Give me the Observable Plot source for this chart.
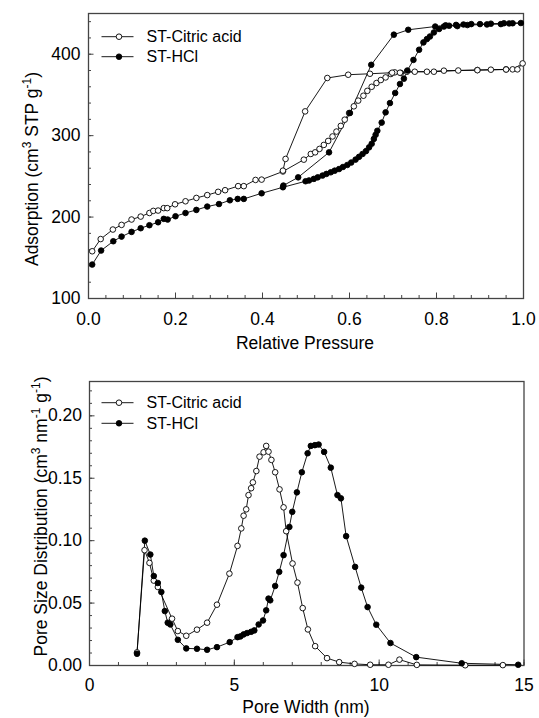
<!DOCTYPE html>
<html><head><meta charset="utf-8">
<script src="https://cdn.jsdelivr.net/npm/d3@7"></script>
<script src="https://cdn.jsdelivr.net/npm/@observablehq/plot@0.6"></script>
<style>
body{margin:0;background:#fff;font-family:"Liberation Sans",Arial,sans-serif;}
#wrap{width:539px;height:718px;position:relative;overflow:hidden;background:#fff}
#wrap svg{display:block}
</style></head><body><div id="wrap"></div>
<script>
const seriesNames = ["ST-Citric acid", "ST-HCl"];

// ---- Isotherm (top) ----
const citricAdsP = [0.0085,0.028,0.056,0.076,0.099,0.12,0.140,0.149,0.160,0.173,0.181,0.199,0.223,0.248,0.273,0.298,0.314,0.344,0.357,0.384,0.398,0.447,0.495,0.511,0.521,0.531,0.541,0.551,0.561,0.570,0.580,0.589,0.599,0.610,0.620,0.632,0.641,0.651,0.662,0.672,0.683,0.695,0.704,0.718,0.750,0.794,0.850,0.894,0.925,0.960,0.975,0.998];
const citricAdsV = [158,173,184.7,190.4,197,200.6,205,207.6,208,211,211,215.7,219.4,223.5,227,231,233,238,238,245.6,246,256,270.5,277.5,279.5,283.7,288.6,293.5,299,305,312,319.6,327.8,336,343,349,355,360,364.6,368.3,371.5,375.7,377.7,377,378.5,378.5,380,380.6,381,381.4,381.4,388.7];
const citricDesP = [0.986,0.960,0.894,0.817,0.778,0.732,0.716,0.698,0.647,0.597,0.549,0.498,0.453,0.447];
const citricDesV = [381.4,381.2,380.4,379.8,378.5,378.5,377.3,377.3,376,374.8,370.8,329.8,271.4,257];

const hclAdsP = [0.0085,0.029,0.057,0.076,0.099,0.12,0.14,0.16,0.173,0.182,0.2,0.223,0.248,0.273,0.30,0.325,0.343,0.357,0.398,0.447,0.499,0.507,0.518,0.527,0.538,0.547,0.557,0.566,0.576,0.585,0.595,0.604,0.614,0.622,0.630,0.638,0.645,0.651,0.656,0.660,0.664,0.674,0.683,0.693,0.705,0.716,0.725,0.733,0.747,0.760,0.770,0.778,0.785,0.794,0.806,0.817,0.829,0.845,0.862,0.880,0.900,0.925,0.955,0.975,0.994];
const hclAdsV = [141.7,158.9,170.3,176,181.8,186.3,190,193.6,197.8,197,201,205,208.8,212.9,216,220.6,222.3,222.3,229.2,236.6,244,245,246.9,248.8,251,253,255,257,259,261.5,264,267,270.6,274,277.5,281,285.6,290,296,301,306,316,328.6,340,352.4,363.4,370,380,393,405.5,414.5,418.6,421.8,426.7,431,434,435,436,436.5,437,437,437.5,438,438,438.3];
const hclDesP = [0.967,0.948,0.916,0.871,0.848,0.821,0.797,0.735,0.702,0.650,0.601,0.553,0.482,0.448];
const hclDesV = [437.8,437,436.6,435.8,434.5,435.5,434,430,424,387,327.8,279.5,248.8,238.7];

// ---- Pore size distribution (bottom) ----
const psdCitricW = [1.64,1.90,2.07,2.22,2.36,2.85,3.05,3.34,3.71,4.06,4.40,4.83,5.11,5.24,5.32,5.41,5.49,5.58,5.64,5.76,5.87,6.01,6.10,6.18,6.28,6.41,6.56,6.70,6.79,7.01,7.18,7.36,7.54,7.79,8.20,8.62,9.15,9.69,10.32,10.70,11.30,12.97,14.27];
const psdCitricD = [0.0105,0.0924,0.0822,0.068,0.0629,0.0375,0.0276,0.0238,0.0287,0.0343,0.0487,0.0736,0.0958,0.1098,0.12,0.1251,0.1365,0.142,0.1467,0.1558,0.1673,0.1708,0.1759,0.1713,0.1647,0.1548,0.1411,0.1267,0.1076,0.0817,0.0664,0.046,0.0289,0.0155,0.0059,0.0027,0.0013,0.0006,0.0006,0.0047,0.0005,0.0002,0.0003];
const psdHclW = [1.64,1.91,2.10,2.22,2.36,2.48,2.60,2.70,2.79,3.05,3.34,3.71,4.06,4.40,4.84,5.11,5.21,5.32,5.44,5.58,5.69,5.84,5.99,6.10,6.18,6.24,6.41,6.55,6.70,6.90,7.00,7.16,7.33,7.53,7.64,7.78,7.91,8.10,8.33,8.56,8.68,8.86,9.17,9.38,9.60,9.90,10.39,11.28,12.85,14.80];
const psdHclD = [0.0094,0.1,0.0889,0.0717,0.0661,0.0589,0.0436,0.0343,0.0329,0.0206,0.0137,0.0134,0.0126,0.0147,0.0187,0.0227,0.0233,0.0249,0.026,0.027,0.0281,0.0329,0.0361,0.0442,0.0536,0.0522,0.0637,0.075,0.0884,0.111,0.1231,0.1387,0.1548,0.17,0.1759,0.1765,0.177,0.1711,0.1585,0.1365,0.1339,0.1036,0.079,0.0624,0.0468,0.0327,0.018,0.0067,0.0018,0.0006];

// ---- ticks ----
const isoXTicks = [0, 0.2, 0.4, 0.6, 0.8, 1.0];
const isoXMinor = d3.range(0, 1.0001, 0.04);
const isoYTicks = [100, 200, 300, 400];
const isoYMinor = d3.range(100, 441, 20);
const psdXTicks = [0, 5, 10, 15];
const psdXMinor = d3.range(0, 15.001, 1);
const psdYTicks = [0, 0.05, 0.10, 0.15, 0.20];
const psdYMinor = d3.range(0, 0.2201, 0.01);

const FONT = '"Liberation Sans", Arial, sans-serif';
const W = 539;

function rows(name, xs, ys, kx, ky) { return xs.map((x, i) => ({s: name, [kx]: x, [ky]: ys[i]})); }

const isoCit = rows(seriesNames[0], citricAdsP.concat(citricDesP), citricAdsV.concat(citricDesV), "p", "v");
const isoHcl = rows(seriesNames[1], hclAdsP.concat(hclDesP), hclAdsV.concat(hclDesV), "p", "v");
const psdCit = rows(seriesNames[0], psdCitricW, psdCitricD, "w", "d");
const psdHcl = rows(seriesNames[1], psdHclW, psdHclD, "w", "d");

function makePlot(cfg) {
  const fh = cfg.height - cfg.mt - cfg.mb;
  const fw = W - cfg.ml - cfg.mr;
  const svg = Plot.plot({
    width: W, height: cfg.height,
    marginLeft: cfg.ml, marginRight: cfg.mr, marginTop: cfg.mt, marginBottom: cfg.mb,
    style: {fontFamily: FONT, fontSize: "17.5px", color: "#000", background: "#fff", overflow: "visible"},
    x: {domain: cfg.xd},
    y: {domain: cfg.yd},
    marks: [
      Plot.tickX(cfg.xMinor, {x: d => d, insetTop: fh - 3, stroke: "#444", strokeWidth: 1}),
      Plot.tickX(cfg.xTicks, {x: d => d, insetTop: fh - 5.5, stroke: "#444", strokeWidth: 1}),
      Plot.tickY(cfg.yMinor, {y: d => d, insetRight: fw - 3, stroke: "#444", strokeWidth: 1}),
      Plot.tickY(cfg.yTicks, {y: d => d, insetRight: fw - 5.5, stroke: "#444", strokeWidth: 1}),
      Plot.axisX({ticks: cfg.xTicks, tickSize: 0, tickPadding: cfg.xpad, tickFormat: cfg.xfmt, label: null}),
      Plot.axisY({ticks: cfg.yTicks, tickSize: 0, tickPadding: cfg.ypad, tickFormat: cfg.yfmt, label: null}),
      Plot.frame({stroke: "#444", strokeWidth: 1.3}),
      Plot.line(cfg.a, {x: cfg.kx, y: cfg.ky, stroke: "#000", strokeWidth: 0.9}),
      Plot.line(cfg.b, {x: cfg.kx, y: cfg.ky, stroke: "#000", strokeWidth: 0.9}),
      Plot.dot(cfg.a, {x: cfg.kx, y: cfg.ky, r: 2.8, fill: "#fff", stroke: "#000", strokeWidth: 0.9}),
      Plot.dot(cfg.b, {x: cfg.kx, y: cfg.ky, r: 2.8, fill: "#000", stroke: "#000", strokeWidth: 0.9})
    ]
  });
  return svg;
}

function addLegend(svg, x0, y0, dy) {
  const g = d3.select(svg).append("g").attr("font-size", 16).attr("font-family", FONT).attr("text-anchor", "start");
  seriesNames.forEach((n, i) => {
    const y = y0 + i * dy;
    g.append("line").attr("x1", x0).attr("x2", x0 + 32).attr("y1", y).attr("y2", y).attr("stroke", "#000").attr("stroke-width", 0.9);
    g.append("circle").attr("cx", x0 + 17.5).attr("cy", y).attr("r", 2.8).attr("fill", i === 0 ? "#fff" : "#000").attr("stroke", "#000").attr("stroke-width", 0.9);
    g.append("text").attr("x", x0 + 45).attr("y", y).attr("dy", "0.36em").attr("text-anchor", "start").attr("fill", "#000").text(n);
  });
}

function addYTitle(svg, x, y, parts) {
  const t = d3.select(svg).append("text").attr("transform", `translate(${x},${y}) rotate(-90)`)
    .attr("text-anchor", "middle").attr("font-size", 17.5).attr("font-family", FONT).attr("fill", "#000");
  parts.forEach(p => {
    const s = t.append("tspan").text(p[0]);
    if (p[1]) s.attr("baseline-shift", "super").attr("font-size", 12);
  });
}

function addXTitle(svg, x, y, txt) {
  d3.select(svg).append("text").attr("x", x).attr("y", y).attr("text-anchor", "middle")
    .attr("font-size", 17.5).attr("font-family", FONT).attr("fill", "#000").text(txt);
}

const topSvg = makePlot({height: 358, ml: 88, mr: 16, mt: 13, mb: 60, xd: [0, 1], yd: [100, 450],
  xTicks: isoXTicks, xMinor: isoXMinor, yTicks: isoYTicks, yMinor: isoYMinor,
  xpad: 14, ypad: 8, xfmt: d => d.toFixed(1), yfmt: d => String(d),
  a: isoCit, b: isoHcl, kx: "p", ky: "v"});
addLegend(topSvg, 101.5, 36.7, 20);
addYTitle(topSvg, 38, 169, [["Adsorption (cm"], ["3", true], [" STP g"], ["-1", true], [")"]]);
addXTitle(topSvg, 305, 349, "Relative Pressure");

const botSvg = makePlot({height: 360, ml: 89, mr: 15.5, mt: 23, mb: 53, xd: [0, 15], yd: [0, 0.2275],
  xTicks: psdXTicks, xMinor: psdXMinor, yTicks: psdYTicks, yMinor: psdYMinor,
  xpad: 13, ypad: 7.5, xfmt: d => String(d), yfmt: d => d.toFixed(2),
  a: psdCit, b: psdHcl, kx: "w", ky: "d"});
addLegend(botSvg, 101.5, 44.7, 20.6);
addYTitle(botSvg, 46.5, 158.5, [["Pore Size Distribution (cm"], ["3", true], [" nm"], ["-1", true], [" g"], ["-1", true], [")"]]);
addXTitle(botSvg, 306, 355, "Pore Width (nm)");

const wrap = document.getElementById("wrap");
wrap.appendChild(topSvg);
wrap.appendChild(botSvg);
</script>
</body></html>
